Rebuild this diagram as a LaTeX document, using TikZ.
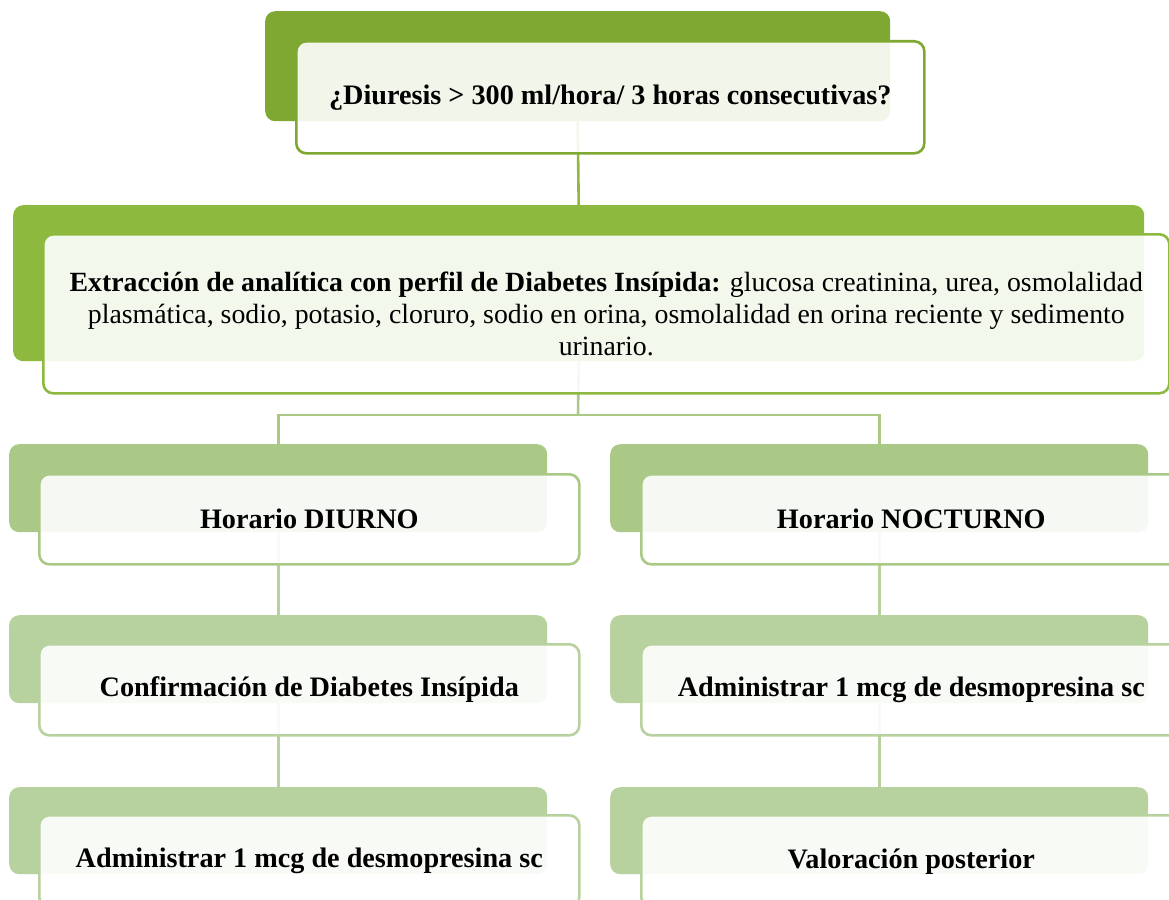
\documentclass[tikz,border=0pt]{standalone}
\usepackage{fontspec}
\setmainfont{Liberation Serif}
\definecolor{cA}{HTML}{7FA832}
\definecolor{cB}{HTML}{8DB93F}
\definecolor{cC}{HTML}{ABC986}
\definecolor{cD}{HTML}{B8D29F}
\tikzset{
  back/.style={fill=#1, draw=none, rounded corners=10pt, inner sep=0pt, anchor=north west},
  front/.style={draw=#1, line width=2.6pt, fill=white, fill opacity=0.9, text opacity=1,
    rounded corners=10pt, inner sep=0pt, anchor=north west, text=black, align=center},
  bigtxt/.style={font=\bfseries\fontsize{28.2}{32}\selectfont},
  paratxt/.style={font=\fontsize{27.8}{32}\selectfont},
  link/.style={draw=#1, line width=2.6pt}
}
\begin{document}
\begin{tikzpicture}[x=1pt,y=-1pt]
\useasboundingbox (0,0) rectangle (1169,899);
% coordinates
\coordinate (j) at (578,415);
% background (green) blocks
\node[back=cA, minimum width=625, minimum height=110] (g0) at (265,11) {};
\node[back=cB, minimum width=1131, minimum height=156] (g1) at (13,205) {};
\node[back=cC, minimum width=538, minimum height=88] (g2l) at (9,444) {};
\node[back=cC, minimum width=538, minimum height=88] (g2r) at (610,444) {};
\node[back=cD, minimum width=538, minimum height=88] (g3l) at (9,615) {};
\node[back=cD, minimum width=538, minimum height=88] (g3r) at (610,615) {};
\node[back=cD, minimum width=538, minimum height=87] (g4l) at (9,787) {};
\node[back=cD, minimum width=538, minimum height=87] (g4r) at (610,787) {};
% connectors
\draw[link=cB] (g0.south) -- (g1.north);
\draw[link=cC] (g1.south) -- (j);
\draw[link=cC] (j) -| (g2l.north);
\draw[link=cC] (j) -| (g2r.north);
\draw[link=cD] (g2l.south) -- (g3l.north);
\draw[link=cD] (g2r.south) -- (g3r.north);
\draw[link=cD] (g3l.south) -- (g4l.north);
\draw[link=cD] (g3r.south) -- (g4r.north);
% front boxes with text
\node[front=cA, bigtxt, minimum width=628, minimum height=112] (b0) at (295,40)
  {¿Diuresis > 300 ml/hora/ 3 horas consecutivas?};
\node[front=cB, paratxt, minimum width=1126, minimum height=159] (b1) at (42,233)
  {\textbf{Extracción de analítica con perfil de Diabetes Insípida:} glucosa creatinina, urea, osmolalidad\\
   plasmática, sodio, potasio, cloruro, sodio en orina, osmolalidad en orina reciente y sedimento\\
   urinario.};
\node[front=cC, bigtxt, minimum width=540, minimum height=90] (b2l) at (38,473) {Horario DIURNO};
\node[front=cC, bigtxt, minimum width=540, minimum height=90] (b2r) at (640,473) {Horario NOCTURNO};
\node[front=cD, bigtxt, minimum width=540, minimum height=91] (b3l) at (38,643) {Confirmación de Diabetes Insípida};
\node[front=cD, bigtxt, minimum width=540, minimum height=91] (b3r) at (640,643) {Administrar 1 mcg de desmopresina sc};
\node[front=cD, bigtxt, minimum width=540, minimum height=92] (b4l) at (38,814) {Administrar 1 mcg de desmopresina sc};
\node[front=cD, bigtxt, minimum width=540, minimum height=92] (b4r) at (640,814) {Valoración posterior};
\end{tikzpicture}
\end{document}
